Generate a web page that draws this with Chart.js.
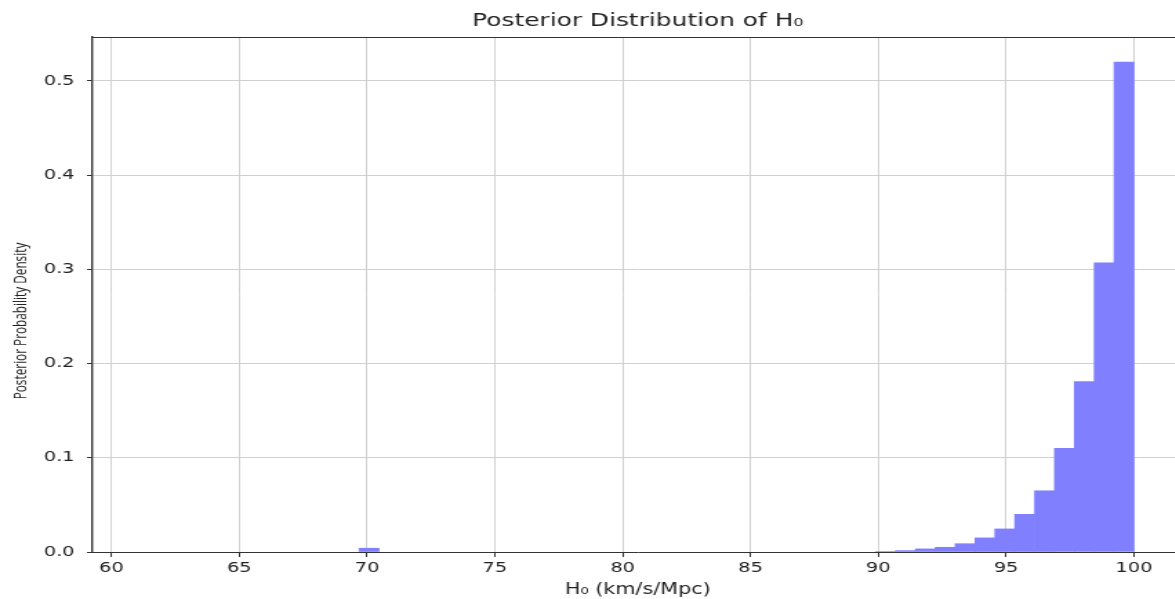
<!DOCTYPE html>
<html>
<head>
<meta charset="utf-8">
<title>Posterior H0</title>
<script src="https://cdn.jsdelivr.net/npm/chart.js@4.4.0/dist/chart.umd.min.js"></script>
<style>
  html, body { margin: 0; padding: 0; background: #fff; overflow: hidden; }
  /* la figura original está estirada en horizontal */
  #envoltura { width: 857px; height: 599px; transform: scaleX(1.3804); transform-origin: 0 0; }
  canvas { display: block; }
</style>
</head>
<body>
<div id="envoltura"><canvas id="grafico" width="857" height="599"></canvas></div>
<script>
// centros de los bins del histograma (H0, km/s/Mpc)
const binCentros = [70.08, 90.286, 91.063, 91.840, 92.617, 93.395, 94.172, 94.949, 95.726, 96.503, 97.281, 98.058, 98.835, 99.612];
// densidad posterior de cada bin
const densidad = [0.004, 0.0005, 0.0015, 0.0033, 0.005, 0.0088, 0.015, 0.0245, 0.040, 0.065, 0.110, 0.181, 0.307, 0.520];
const xTicks = [60, 65, 70, 75, 80, 85, 90, 95, 100];
const yTicks = [0, 0.1, 0.2, 0.3, 0.4, 0.5];

const fuente = 'DejaVu Sans';
const colorTexto = '#222';
const tituloY = 'Posterior Probability Density';

// línea superior del marco (spine de arriba)
const marcoSuperior = {
  id: 'marcoSuperior',
  afterDraw(chart) {
    const { ctx, chartArea: a } = chart;
    ctx.save();
    ctx.strokeStyle = '#333';
    ctx.lineWidth = 1;
    ctx.beginPath();
    ctx.moveTo(a.left, a.top + 0.5);
    ctx.lineTo(a.right, a.top + 0.5);
    ctx.stroke();
    ctx.restore();
  }
};

// etiqueta del eje Y (en el original no está centrada en el eje)
const etiquetaY = {
  id: 'etiquetaY',
  afterDraw(chart) {
    const c = chart.ctx;
    c.save();
    c.translate(16, 321);
    c.rotate(-Math.PI / 2);
    c.font = '11.8px "Open Sans"';
    c.fillStyle = colorTexto;
    c.textAlign = 'center';
    c.textBaseline = 'middle';
    c.fillText(tituloY, 0, 0);
    c.restore();
  }
};

const ctx = document.getElementById('grafico');
new Chart(ctx, {
  type: 'bar',
  data: {
    datasets: [{
      label: 'Posterior',
      data: binCentros.map((x, i) => ({ x: x, y: densidad[i] })),
      backgroundColor: '#8080ff',
      borderWidth: 0,
      barPercentage: 1,
      categoryPercentage: 1,
      grouped: false
    }]
  },
  options: {
    responsive: false,
    animation: false,
    devicePixelRatio: 1,
    layout: { padding: 0 },
    plugins: {
      legend: { display: false },
      tooltip: { enabled: false },
      title: {
        display: true,
        fullSize: false,
        text: 'Posterior Distribution of H₀',
        color: colorTexto,
        font: { family: fuente, size: 18, weight: 'normal' },
        padding: { top: 11, bottom: 4.4 }
      }
    },
    scales: {
      x: {
        type: 'linear',
        min: 59.26,
        max: 101.92,
        offset: false,
        afterBuildTicks: s => { s.ticks = xTicks.map(v => ({ value: v })); },
        afterFit: s => { s.height = 47; },
        grid: { offset: false, color: '#d0d0d0', lineWidth: 1, tickColor: '#333', tickLength: 5 },
        border: { color: '#333', width: 1 },
        ticks: {
          color: colorTexto,
          font: { family: fuente, size: 14 },
          padding: 3,
          maxRotation: 0,
          autoSkip: false,
          callback: v => String(v)
        },
        title: {
          display: true,
          text: 'H₀ (km/s/Mpc)',
          color: colorTexto,
          font: { family: fuente, size: 15 },
          padding: { top: 0, bottom: 0 }
        }
      },
      y: {
        min: 0,
        max: 0.5467,
        afterBuildTicks: s => { s.ticks = yTicks.map(v => ({ value: v })); },
        afterFit: s => { s.width = 67; },
        grid: { color: '#d0d0d0', lineWidth: 1, tickColor: '#333', tickLength: 4 },
        border: { color: '#333', width: 1.4 },
        ticks: {
          color: colorTexto,
          font: { family: fuente, size: 14 },
          padding: 9,
          autoSkip: false,
          callback: v => Number(v).toFixed(1)
        }
      }
    }
  },
  plugins: [marcoSuperior, etiquetaY]
});
</script>
</body>
</html>
